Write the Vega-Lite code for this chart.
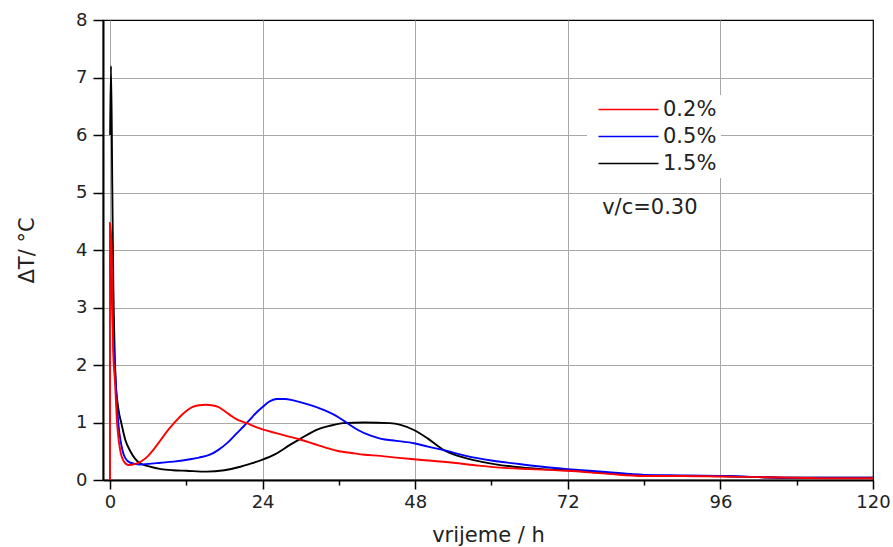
{
  "$schema": "https://vega.github.io/schema/vega-lite/v6.json",
  "width": 770,
  "height": 460,
  "autosize": {"type": "none"},
  "padding": {"left": 103, "top": 20, "right": 20, "bottom": 67},
  "background": "white",
  "config": {
    "font": "DejaVu Sans",
    "view": {"stroke": "black", "strokeWidth": 1.2},
    "axis": {
      "domainColor": "black",
      "domainWidth": 2,
      "tickColor": "black",
      "tickWidth": 1.5,
      "gridColor": "#a8a8a8",
      "gridWidth": 1,
      "labelFont": "DejaVu Sans",
      "labelFontSize": 18,
      "labelColor": "#222",
      "titleFont": "DejaVu Sans",
      "titleFontSize": 21,
      "titleFontWeight": "normal",
      "titleColor": "#222"
    }
  },
  "layer": [
    {
      "data": {
        "values": [
          {"t": 0.02, "dT": 6.0, "s": "1.5%"},
          {"t": 0.16, "dT": 7.2, "s": "1.5%"},
          {"t": 0.36, "dT": 5.1, "s": "1.5%"},
          {"t": 0.52, "dT": 3.4, "s": "1.5%"},
          {"t": 0.7, "dT": 2.4, "s": "1.5%"},
          {"t": 0.9, "dT": 1.7, "s": "1.5%"},
          {"t": 1.3, "dT": 1.25, "s": "1.5%"},
          {"t": 1.8, "dT": 0.98, "s": "1.5%"},
          {"t": 2.4, "dT": 0.7, "s": "1.5%"},
          {"t": 3.2, "dT": 0.5, "s": "1.5%"},
          {"t": 4.7, "dT": 0.29, "s": "1.5%"},
          {"t": 6, "dT": 0.24, "s": "1.5%"},
          {"t": 8, "dT": 0.19, "s": "1.5%"},
          {"t": 9.9, "dT": 0.17, "s": "1.5%"},
          {"t": 12, "dT": 0.16, "s": "1.5%"},
          {"t": 15.2, "dT": 0.145, "s": "1.5%"},
          {"t": 18, "dT": 0.17, "s": "1.5%"},
          {"t": 20.5, "dT": 0.23, "s": "1.5%"},
          {"t": 22, "dT": 0.28, "s": "1.5%"},
          {"t": 23.9, "dT": 0.35, "s": "1.5%"},
          {"t": 26, "dT": 0.45, "s": "1.5%"},
          {"t": 28.3, "dT": 0.61, "s": "1.5%"},
          {"t": 30, "dT": 0.72, "s": "1.5%"},
          {"t": 32.5, "dT": 0.87, "s": "1.5%"},
          {"t": 34.5, "dT": 0.94, "s": "1.5%"},
          {"t": 36.7, "dT": 0.99, "s": "1.5%"},
          {"t": 40, "dT": 1.0, "s": "1.5%"},
          {"t": 44, "dT": 0.99, "s": "1.5%"},
          {"t": 45.7, "dT": 0.96, "s": "1.5%"},
          {"t": 47.8, "dT": 0.87, "s": "1.5%"},
          {"t": 50, "dT": 0.72, "s": "1.5%"},
          {"t": 52.5, "dT": 0.52, "s": "1.5%"},
          {"t": 55, "dT": 0.41, "s": "1.5%"},
          {"t": 58.3, "dT": 0.32, "s": "1.5%"},
          {"t": 63.5, "dT": 0.23, "s": "1.5%"},
          {"t": 68, "dT": 0.19, "s": "1.5%"},
          {"t": 72, "dT": 0.17, "s": "1.5%"},
          {"t": 78, "dT": 0.12, "s": "1.5%"},
          {"t": 84, "dT": 0.08, "s": "1.5%"},
          {"t": 90, "dT": 0.07, "s": "1.5%"},
          {"t": 96, "dT": 0.07, "s": "1.5%"},
          {"t": 102, "dT": 0.05, "s": "1.5%"},
          {"t": 108, "dT": 0.04, "s": "1.5%"},
          {"t": 114, "dT": 0.04, "s": "1.5%"},
          {"t": 120, "dT": 0.04, "s": "1.5%"},

          {"t": 0.05, "dT": 3.8, "s": "0.5%"},
          {"t": 0.3, "dT": 3.2, "s": "0.5%"},
          {"t": 0.6, "dT": 2.2, "s": "0.5%"},
          {"t": 0.8, "dT": 1.9, "s": "0.5%"},
          {"t": 1.0, "dT": 1.5, "s": "0.5%"},
          {"t": 1.3, "dT": 1.0, "s": "0.5%"},
          {"t": 1.8, "dT": 0.6, "s": "0.5%"},
          {"t": 2.4, "dT": 0.38, "s": "0.5%"},
          {"t": 3.2, "dT": 0.3, "s": "0.5%"},
          {"t": 4.7, "dT": 0.27, "s": "0.5%"},
          {"t": 6, "dT": 0.28, "s": "0.5%"},
          {"t": 8, "dT": 0.3, "s": "0.5%"},
          {"t": 10, "dT": 0.32, "s": "0.5%"},
          {"t": 12.6, "dT": 0.36, "s": "0.5%"},
          {"t": 14, "dT": 0.39, "s": "0.5%"},
          {"t": 15.7, "dT": 0.44, "s": "0.5%"},
          {"t": 17, "dT": 0.52, "s": "0.5%"},
          {"t": 18.5, "dT": 0.65, "s": "0.5%"},
          {"t": 20, "dT": 0.82, "s": "0.5%"},
          {"t": 21, "dT": 0.93, "s": "0.5%"},
          {"t": 22, "dT": 1.05, "s": "0.5%"},
          {"t": 23, "dT": 1.17, "s": "0.5%"},
          {"t": 24, "dT": 1.27, "s": "0.5%"},
          {"t": 25, "dT": 1.36, "s": "0.5%"},
          {"t": 26.2, "dT": 1.41, "s": "0.5%"},
          {"t": 27.5, "dT": 1.41, "s": "0.5%"},
          {"t": 29, "dT": 1.38, "s": "0.5%"},
          {"t": 31, "dT": 1.32, "s": "0.5%"},
          {"t": 33.6, "dT": 1.22, "s": "0.5%"},
          {"t": 35.5, "dT": 1.12, "s": "0.5%"},
          {"t": 37.3, "dT": 0.99, "s": "0.5%"},
          {"t": 39, "dT": 0.87, "s": "0.5%"},
          {"t": 41, "dT": 0.77, "s": "0.5%"},
          {"t": 42.5, "dT": 0.72, "s": "0.5%"},
          {"t": 45, "dT": 0.68, "s": "0.5%"},
          {"t": 47.8, "dT": 0.64, "s": "0.5%"},
          {"t": 50, "dT": 0.58, "s": "0.5%"},
          {"t": 52.5, "dT": 0.52, "s": "0.5%"},
          {"t": 56, "dT": 0.42, "s": "0.5%"},
          {"t": 60, "dT": 0.34, "s": "0.5%"},
          {"t": 63.5, "dT": 0.29, "s": "0.5%"},
          {"t": 68, "dT": 0.23, "s": "0.5%"},
          {"t": 72, "dT": 0.19, "s": "0.5%"},
          {"t": 78, "dT": 0.14, "s": "0.5%"},
          {"t": 84, "dT": 0.09, "s": "0.5%"},
          {"t": 90, "dT": 0.08, "s": "0.5%"},
          {"t": 96, "dT": 0.07, "s": "0.5%"},
          {"t": 102, "dT": 0.05, "s": "0.5%"},
          {"t": 108, "dT": 0.04, "s": "0.5%"},
          {"t": 114, "dT": 0.04, "s": "0.5%"},
          {"t": 120, "dT": 0.04, "s": "0.5%"},

          {"t": 0, "dT": 0, "s": "0.2%"},
          {"t": 0, "dT": 4.47, "s": "0.2%"},
          {"t": 0.27, "dT": 4.0, "s": "0.2%"},
          {"t": 0.5, "dT": 2.26, "s": "0.2%"},
          {"t": 0.8, "dT": 1.68, "s": "0.2%"},
          {"t": 1.05, "dT": 1.1, "s": "0.2%"},
          {"t": 1.6, "dT": 0.52, "s": "0.2%"},
          {"t": 2.2, "dT": 0.32, "s": "0.2%"},
          {"t": 2.9, "dT": 0.26, "s": "0.2%"},
          {"t": 4, "dT": 0.28, "s": "0.2%"},
          {"t": 5, "dT": 0.33, "s": "0.2%"},
          {"t": 6, "dT": 0.42, "s": "0.2%"},
          {"t": 7, "dT": 0.55, "s": "0.2%"},
          {"t": 8, "dT": 0.7, "s": "0.2%"},
          {"t": 9, "dT": 0.85, "s": "0.2%"},
          {"t": 10, "dT": 0.98, "s": "0.2%"},
          {"t": 11, "dT": 1.1, "s": "0.2%"},
          {"t": 12, "dT": 1.2, "s": "0.2%"},
          {"t": 13, "dT": 1.27, "s": "0.2%"},
          {"t": 14, "dT": 1.3, "s": "0.2%"},
          {"t": 15, "dT": 1.31, "s": "0.2%"},
          {"t": 16, "dT": 1.3, "s": "0.2%"},
          {"t": 17, "dT": 1.27, "s": "0.2%"},
          {"t": 18, "dT": 1.2, "s": "0.2%"},
          {"t": 19, "dT": 1.12, "s": "0.2%"},
          {"t": 20, "dT": 1.05, "s": "0.2%"},
          {"t": 21.5, "dT": 0.99, "s": "0.2%"},
          {"t": 23, "dT": 0.92, "s": "0.2%"},
          {"t": 24, "dT": 0.88, "s": "0.2%"},
          {"t": 26, "dT": 0.82, "s": "0.2%"},
          {"t": 28, "dT": 0.76, "s": "0.2%"},
          {"t": 30, "dT": 0.7, "s": "0.2%"},
          {"t": 32, "dT": 0.63, "s": "0.2%"},
          {"t": 34, "dT": 0.56, "s": "0.2%"},
          {"t": 36, "dT": 0.5, "s": "0.2%"},
          {"t": 38, "dT": 0.47, "s": "0.2%"},
          {"t": 40, "dT": 0.44, "s": "0.2%"},
          {"t": 42.5, "dT": 0.42, "s": "0.2%"},
          {"t": 45, "dT": 0.39, "s": "0.2%"},
          {"t": 47.8, "dT": 0.36, "s": "0.2%"},
          {"t": 50, "dT": 0.34, "s": "0.2%"},
          {"t": 54, "dT": 0.3, "s": "0.2%"},
          {"t": 58, "dT": 0.25, "s": "0.2%"},
          {"t": 62, "dT": 0.21, "s": "0.2%"},
          {"t": 66, "dT": 0.19, "s": "0.2%"},
          {"t": 72, "dT": 0.16, "s": "0.2%"},
          {"t": 78, "dT": 0.11, "s": "0.2%"},
          {"t": 84, "dT": 0.07, "s": "0.2%"},
          {"t": 90, "dT": 0.07, "s": "0.2%"},
          {"t": 96, "dT": 0.06, "s": "0.2%"},
          {"t": 102, "dT": 0.05, "s": "0.2%"},
          {"t": 108, "dT": 0.04, "s": "0.2%"},
          {"t": 114, "dT": 0.03, "s": "0.2%"},
          {"t": 120, "dT": 0.03, "s": "0.2%"}
        ]
      },
      "mark": {"type": "line", "strokeWidth": 1.9, "interpolate": "monotone"},
      "encoding": {
        "x": {
          "field": "t",
          "type": "quantitative",
          "scale": {"domain": [-1.1, 120], "nice": false, "zero": false},
          "axis": {
            "title": "vrijeme / h",
            "values": [0, 12, 24, 36, 48, 60, 72, 84, 96, 108, 120],
            "labelExpr": "datum.value % 24 === 0 ? format(datum.value, 'd') : ''",
            "tickSize": {"condition": {"test": "datum.value % 24 === 0", "value": 9}, "value": 5},
            "gridOpacity": {"condition": {"test": "datum.value % 24 === 0 && datum.value < 120", "value": 1}, "value": 0},
            "labelPadding": 4,
            "titlePadding": 13,
            "labelFlush": false
          }
        },
        "y": {
          "field": "dT",
          "type": "quantitative",
          "scale": {"domain": [0, 8], "nice": false},
          "axis": {
            "title": "ΔT/ °C",
            "values": [0, 0.5, 1, 1.5, 2, 2.5, 3, 3.5, 4, 4.5, 5, 5.5, 6, 6.5, 7, 7.5, 8],
            "labelExpr": "datum.value % 1 === 0 ? format(datum.value, 'd') : ''",
            "tickSize": {"condition": {"test": "datum.value % 1 === 0", "value": 10}, "value": 5},
            "gridOpacity": {"condition": {"test": "datum.value % 1 === 0 && datum.value < 8", "value": 1}, "value": 0},
            "labelPadding": 6,
            "titlePadding": 38,
            "labelFlush": false
          }
        },
        "color": {
          "field": "s",
          "type": "nominal",
          "scale": {"domain": ["0.2%", "0.5%", "1.5%"], "range": ["#ff0000", "#0000ff", "#000000"]},
          "legend": {
            "title": null,
            "orient": "none",
            "legendX": 484,
            "legendY": 75,
            "symbolType": "M-10,0H10",
            "symbolSize": 36,
            "symbolOffset": 27,
            "symbolStrokeWidth": 1.4,
            "labelFont": "DejaVu Sans",
            "labelFontSize": 21,
            "labelColor": "#222",
            "labelOffset": 24,
            "rowPadding": 5,
            "fillColor": "white",
            "padding": 4,
            "encode": {
              "symbols": {
                "update": {
                  "stroke": {"scale": "color", "field": "value"},
                  "strokeOpacity": {"value": 1},
                  "opacity": {"value": 1}
                }
              }
            }
          }
        }
      }
    },
    {
      "data": {"values": [{"label": "v/c=0.30"}]},
      "mark": {"type": "text", "font": "DejaVu Sans", "fontSize": 21, "align": "left", "baseline": "alphabetic", "color": "#222"},
      "encoding": {
        "text": {"field": "label"},
        "x": {"datum": 77.4},
        "y": {"datum": 4.63}
      }
    }
  ]
}
